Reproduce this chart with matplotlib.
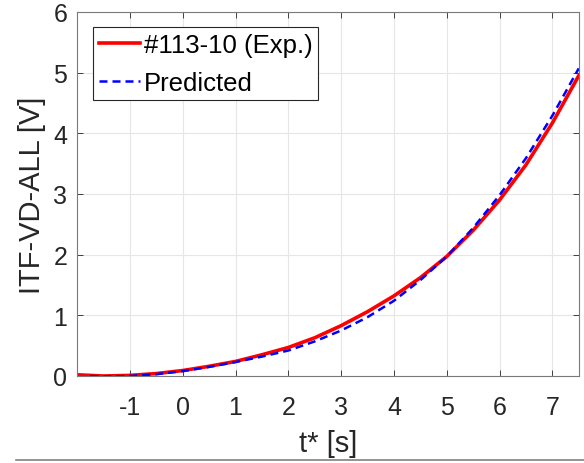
import matplotlib
matplotlib.use("Agg")
import matplotlib.pyplot as plt
from matplotlib.lines import Line2D

plt.rcParams['font.family'] = ['Liberation Sans', 'DejaVu Sans']
plt.rcParams['axes.unicode_minus'] = False

# measured curve (#113-10)
t_exp = [-2.0, -1.5, -1.0, -0.5, 0.0, 0.5, 1.0, 1.5, 2.0, 2.5, 3.0, 3.5,
         4.0, 4.5, 5.0, 5.5, 6.0, 6.5, 7.0, 7.5]
v_exp = [0.02, 0.0, 0.01, 0.04, 0.09, 0.16, 0.24, 0.35, 0.47, 0.63, 0.83, 1.06,
         1.32, 1.62, 1.97, 2.40, 2.90, 3.48, 4.17, 4.95]

# predicted curve
t_pred = [-1.75, -1.5, -1.0, -0.5, 0.0, 0.5, 1.0, 1.5, 2.0, 2.5, 3.0, 3.5,
          4.0, 4.5, 5.0, 5.5, 6.0, 6.5, 7.0, 7.5]
v_pred = [0.0, -0.01, 0.0, 0.03, 0.08, 0.15, 0.23, 0.32, 0.42, 0.57, 0.75, 0.97,
          1.24, 1.58, 1.97, 2.44, 2.98, 3.59, 4.29, 5.07]

x_ticks = [-1, 0, 1, 2, 3, 4, 5, 6, 7]
y_ticks = [0, 1, 2, 3, 4, 5, 6]

fig = plt.figure(figsize=(5.84, 4.64), dpi=100)
ax = fig.add_axes([0.132, 0.1875, 0.859, 0.7845])

ax.plot(t_exp, v_exp, color='#ff0000', linewidth=2.6, label='#113-10 (Exp.)')
ax.plot(t_pred, v_pred, color='#0000ff', linewidth=1.8, linestyle=(0, (3.2, 2.0)),
        label='Predicted')

ax.set_xlim(-2, 7.5)
ax.set_ylim(0, 6)
ax.set_xticks(x_ticks)
ax.set_yticks(y_ticks)
ax.tick_params(direction='in', length=4, width=0.6, colors='#262626',
               labelsize=18, top=True, right=True)
ax.tick_params(axis='x', pad=14)
ax.tick_params(axis='y', pad=7)
ax.grid(True, color='#e6e6e6', linewidth=0.8)
ax.set_axisbelow(True)
for s in ax.spines.values():
    s.set_color('#7a7a7a')
    s.set_linewidth(0.8)

ax.set_xlabel('t* [s]', fontsize=21, color='#262626', labelpad=7)
ax.set_ylabel('ITF-VD-ALL [V]', fontsize=21, color='#262626', labelpad=5)

leg = ax.legend(loc='upper left', bbox_to_anchor=(0.032, 0.959), borderaxespad=0,
                fontsize=18.5, fancybox=False, framealpha=1, edgecolor='#262626',
                handlelength=1.6, handletextpad=0.15, borderpad=0.22,
                labelspacing=0.55)
leg.get_frame().set_linewidth(0.8)

# thin rule along the bottom edge of the image
fig.add_artist(Line2D([16 / 584, 1.0], [3 / 464, 3 / 464], color='#808080',
                      linewidth=1.2, transform=fig.transFigure))

fig.savefig('out.png', dpi=100)
